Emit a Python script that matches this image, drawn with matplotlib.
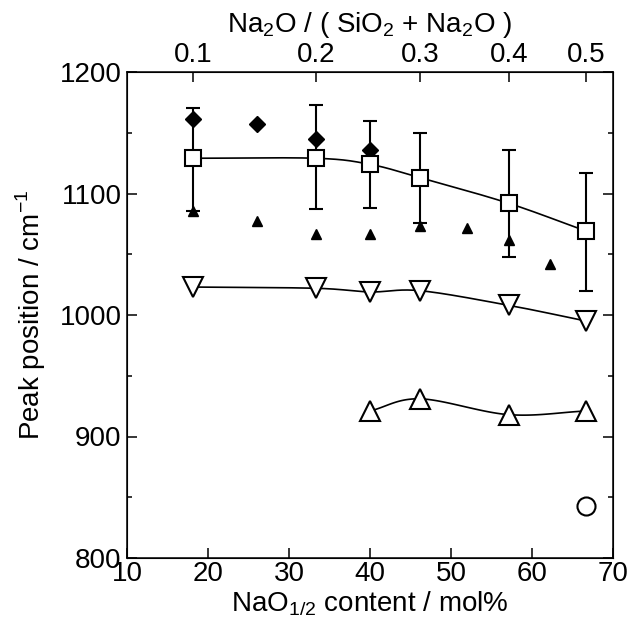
import numpy as np
import matplotlib
matplotlib.use("Agg")
import matplotlib.pyplot as plt
from matplotlib.ticker import MultipleLocator

plt.rcParams['font.family'] = ['Liberation Sans', 'DejaVu Sans']
plt.rcParams['mathtext.fontset'] = 'custom'
plt.rcParams['mathtext.rm'] = 'Liberation Sans'

# NaO1/2 content (mol%) for each glass composition
x_sq = [18.2, 33.3, 40.0, 46.2, 57.1, 66.7]
y_sq = [1129, 1129, 1124, 1113, 1092, 1069]
err_lo = [1086, 1087, 1088, 1076, 1048, 1020]
err_hi = [1170, 1173, 1160, 1150, 1136, 1117]

x_dia = [18.2, 26.0, 33.3, 40.0]
y_dia = [1161, 1157, 1145, 1136]

x_tri_f = [18.2, 26.0, 33.3, 40.0, 46.2, 52.0, 57.1, 62.2]
y_tri_f = [1086, 1077, 1067, 1067, 1073, 1072, 1062, 1042]

x_dn = [18.2, 33.3, 40.0, 46.2, 57.1, 66.7]
y_dn = [1023, 1022, 1019, 1020, 1008, 995]

x_up = [40.0, 46.2, 57.1, 66.7]
y_up = [921, 931, 918, 921]

x_ci = [66.7]
y_ci = [843]

top_ticks = [0.1, 0.2, 0.3, 0.4, 0.5]

FS = 20


def smooth(xs, ys, n=30):
    """Catmull-Rom curve through the given points."""
    xs = np.asarray(xs, float)
    ys = np.asarray(ys, float)
    P = np.column_stack([xs, ys])
    P = np.vstack([2 * P[0] - P[1], P, 2 * P[-1] - P[-2]])
    out = []
    t = np.linspace(0, 1, n)[:, None]
    for i in range(1, len(P) - 2):
        p0, p1, p2, p3 = P[i - 1], P[i], P[i + 1], P[i + 2]
        seg = 0.5 * ((2 * p1) + (-p0 + p2) * t + (2 * p0 - 5 * p1 + 4 * p2 - p3) * t ** 2
                     + (-p0 + 3 * p1 - 3 * p2 + p3) * t ** 3)
        out.append(seg)
    out = np.vstack(out)
    return out[:, 0], out[:, 1]


fig = plt.figure(figsize=(6.32, 6.37), dpi=100)
ax = fig.add_axes([127 / 632, 1 - 558 / 637, 486 / 632, 486 / 637])

ax.set_xlim(10, 70)
ax.set_ylim(800, 1200)

# connecting curves
for xs, ys in [(x_sq, y_sq), (x_dn, y_dn), (x_up, y_up)]:
    sx, sy = smooth(xs, ys)
    ax.plot(sx, sy, color='black', lw=1.2, zorder=2)

ax.errorbar(x_sq, y_sq,
            yerr=[np.array(y_sq) - np.array(err_lo), np.array(err_hi) - np.array(y_sq)],
            fmt='none', ecolor='black', elinewidth=1.5, capsize=5, capthick=1.5, zorder=2)

ax.plot(x_dia, y_dia, 'D', color='black', ms=8.5, zorder=3)
ax.plot(x_tri_f, y_tri_f, '^', color='black', ms=7.5, zorder=3)
ax.plot(x_sq, y_sq, 's', mfc='white', mec='black', mew=1.5, ms=11.5, zorder=4)
ax.plot(x_dn, y_dn, 'v', mfc='white', mec='black', mew=1.5, ms=15, zorder=4)
ax.plot(x_up, y_up, '^', mfc='white', mec='black', mew=1.5, ms=15, zorder=4)
ax.plot(x_ci, y_ci, 'o', mfc='white', mec='black', mew=1.5, ms=13, zorder=4)

ax.xaxis.set_major_locator(MultipleLocator(10))
ax.yaxis.set_major_locator(MultipleLocator(100))
ax.yaxis.set_minor_locator(MultipleLocator(50))
ax.tick_params(axis='both', which='major', direction='in', length=7, width=1.1,
               labelsize=FS)
ax.tick_params(axis='x', which='major', pad=2)
ax.tick_params(axis='y', which='major', pad=4)
ax.tick_params(axis='y', which='minor', direction='in', length=3.6, width=1.1)
ax.tick_params(axis='y', which='both', right=True)
for s in ax.spines.values():
    s.set_linewidth(1.1)

ax.set_xlabel('NaO$_{1/2}$ content / mol%', fontsize=FS, labelpad=2)
ax.set_ylabel('Peak position / cm$^{-1}$', fontsize=FS, labelpad=8)

# top axis: Na2O fraction mapped to NaO1/2 mol%
top_pos = [200 * f / (1 + f) for f in top_ticks]
ax2 = ax.twiny()
ax2.set_xlim(ax.get_xlim())
ax2.set_xticks(top_pos)
ax2.set_xticklabels([f'{f:.1f}' for f in top_ticks])
ax2.tick_params(axis='x', direction='in', length=7, width=1.1, labelsize=FS, pad=3)
ax2.set_xlabel('Na$_2$O / ( SiO$_2$ + Na$_2$O )', fontsize=FS, labelpad=7)

fig.savefig('out.png', dpi=100)
